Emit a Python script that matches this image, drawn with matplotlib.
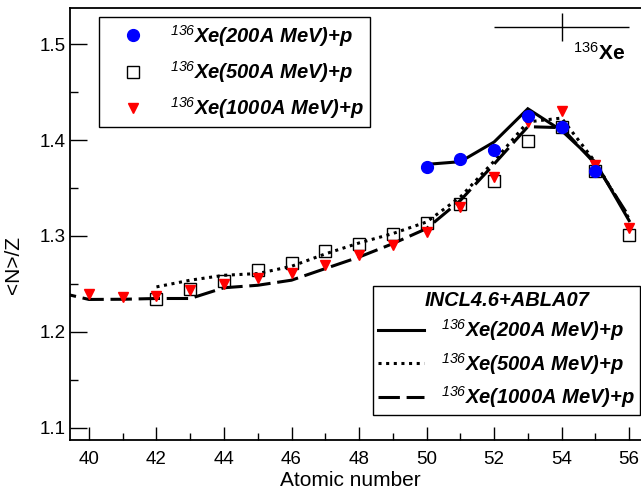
import matplotlib
matplotlib.use("Agg")
import matplotlib.pyplot as plt
from matplotlib.ticker import MultipleLocator

plt.rcParams['font.family'] = ['Liberation Sans', 'DejaVu Sans']
plt.rcParams['mathtext.fontset'] = 'custom'
plt.rcParams['mathtext.rm'] = 'Liberation Sans:italic'
plt.rcParams['mathtext.it'] = 'Liberation Sans:italic'
plt.rcParams['mathtext.sf'] = 'Liberation Sans'

# ---- experimental data ----
z_200 = [50, 51, 52, 53, 54, 55]
nz_200 = [1.372, 1.380, 1.390, 1.425, 1.4135, 1.368]

z_500 = [42, 43, 44, 45, 46, 47, 48, 49, 50, 51, 52, 53, 54, 55, 56]
nz_500 = [1.234, 1.245, 1.253, 1.265, 1.272, 1.284, 1.292, 1.3025, 1.3135,
          1.333, 1.357, 1.399, 1.4135, 1.368, 1.301]

z_1000 = [40, 41, 42, 43, 44, 45, 46, 47, 48, 49, 50, 51, 52, 53, 54, 55, 56]
nz_1000 = [1.240, 1.2365, 1.2375, 1.244, 1.250, 1.2563, 1.2615, 1.2695, 1.2806,
           1.291, 1.304, 1.330, 1.362, 1.419, 1.430, 1.3736, 1.3087]

# ---- INCL4.6+ABLA07 calculations ----
zc_200 = [50, 51, 52, 53, 54, 55, 56]
nzc_200 = [1.3747, 1.3775, 1.398, 1.4327, 1.410, 1.377, 1.316]

zc_500 = [42, 43, 44, 45, 46, 47, 48, 49, 50, 51, 52, 53, 54, 55, 56]
nzc_500 = [1.2469, 1.2539, 1.259, 1.2608, 1.2684, 1.2813, 1.2927, 1.3025,
           1.3146, 1.3406, 1.378, 1.419, 1.423, 1.377, 1.318]

zc_1000 = [39, 40, 41, 42, 43, 44, 45, 46, 47, 48, 49, 50, 51, 52, 53, 54, 55, 56]
nzc_1000 = [1.242, 1.2338, 1.234, 1.2348, 1.2348, 1.246, 1.2486, 1.2539, 1.266,
            1.278, 1.292, 1.3077, 1.337, 1.375, 1.414, 1.413, 1.375, 1.32]

# scale indicator for 136Xe
ref_x = [54]
ref_y = [1.5184]
ref_xerr = [2]
ref_yerr = [0.0146]

lbl_200 = r"$^{136}$Xe(200A MeV)+p"
lbl_500 = r"$^{136}$Xe(500A MeV)+p"
lbl_1000 = r"$^{136}$Xe(1000A MeV)+p"

W, H = 641, 491
fig = plt.figure(figsize=(W / 100, H / 100), dpi=100)
ax = fig.add_axes([69.7 / W, (H - 440) / H, (641 - 69.7) / W + 0.002, (440 - 8) / H])

lc_200, = ax.plot(zc_200, nzc_200, color='black', lw=2.2, ls='-', solid_joinstyle='miter')
lc_500, = ax.plot(zc_500, nzc_500, color='black', lw=2.2, dashes=(1.0, 1.5))
lc_1000, = ax.plot(zc_1000, nzc_1000, color='black', lw=2.2, dashes=(7, 2.2))

pe_500, = ax.plot(z_500, nz_500, ls='none', marker='s', ms=8.5, markerfacecolor='none',
                  markeredgecolor='black', markeredgewidth=1.0)
pe_1000, = ax.plot(z_1000, nz_1000, ls='none', marker='v', ms=6.5, color='#ff0000',
                   markeredgecolor='#ff0000')
pe_200, = ax.plot(z_200, nz_200, ls='none', marker='o', ms=8.5, color='#0000ff',
                  markeredgecolor='#0000ff')

ax.errorbar(ref_x, ref_y, xerr=ref_xerr, yerr=ref_yerr, fmt='none', ecolor='black',
            elinewidth=1.0, capsize=0)
ax.text(54.34, 1.4914, r"$\mathsf{^{136}}$Xe", fontsize=15, fontweight='bold',
        ha='left', va='center')

ax.set_xlim(39.43, 56.39)
ax.set_ylim(1.0872, 1.5378)

ax.xaxis.set_major_locator(MultipleLocator(2))
ax.xaxis.set_minor_locator(MultipleLocator(1))
ax.yaxis.set_major_locator(MultipleLocator(0.1))
ax.yaxis.set_minor_locator(MultipleLocator(0.05))
ax.tick_params(axis='x', which='major', direction='in', length=9.5, width=1.0,
               labelsize=13.5, pad=8)
ax.tick_params(axis='x', which='minor', direction='in', length=5, width=1.0)
ax.tick_params(axis='y', which='major', direction='in', length=12.5, width=1.0,
               labelsize=13.5, pad=3)
ax.tick_params(axis='y', which='minor', direction='in', length=6, width=1.0)
ax.set_xticks([40, 42, 44, 46, 48, 50, 52, 54, 56])
ax.set_xticklabels(['40', '42', '44', '46', '48', '50', '52', '54', '56'])
ax.set_yticks([1.1, 1.2, 1.3, 1.4, 1.5])
ax.set_yticklabels(['1.1', '1.2', '1.3', '1.4', '1.5'])

for s in ['left', 'bottom', 'top']:
    ax.spines[s].set_linewidth(1.3)
ax.spines['right'].set_visible(False)

fig.text(350 / W, 1 - 480 / H, "Atomic number", fontsize=15, ha='center', va='center')
fig.text(14 / W, 1 - 265 / H, "<N>/Z", fontsize=15, rotation=90, ha='center', va='center')

fs = 14.5
leg1 = ax.legend([pe_200, pe_500, pe_1000], [lbl_200, lbl_500, lbl_1000],
                 loc='upper left', bbox_to_anchor=(99 / W, 1 - 17 / H),
                 bbox_transform=fig.transFigure, borderaxespad=0,
                 prop={'size': fs, 'weight': 'bold', 'style': 'italic'},
                 fancybox=False, framealpha=1, edgecolor='black',
                 handlelength=2.8, handletextpad=0.45, borderpad=0.28,
                 labelspacing=0.52, numpoints=1)
leg1.get_frame().set_linewidth(1.0)
ax.add_artist(leg1)

leg2 = ax.legend([lc_200, lc_500, lc_1000], [lbl_200, lbl_500, lbl_1000],
                 loc='upper left', bbox_to_anchor=(373 / W, 1 - 286 / H),
                 bbox_transform=fig.transFigure, borderaxespad=0,
                 prop={'size': fs, 'weight': 'bold', 'style': 'italic'},
                 title="INCL4.6+ABLA07",
                 title_fontproperties={'size': fs, 'weight': 'bold', 'style': 'italic'},
                 fancybox=False, framealpha=1, edgecolor='black',
                 handlelength=2.3, handletextpad=0.85, borderpad=0.25,
                 labelspacing=0.37)
leg2.get_frame().set_linewidth(1.0)

fig.savefig("out.png", dpi=100)
